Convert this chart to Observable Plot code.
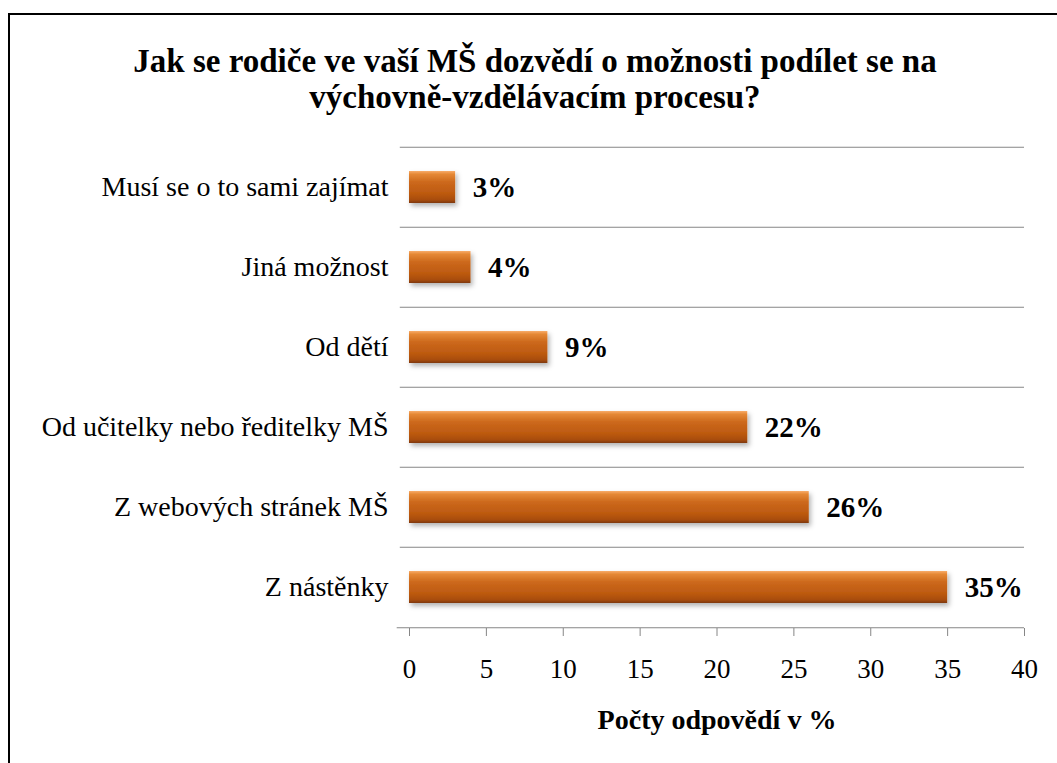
<!DOCTYPE html>
<html>
<head>
<meta charset="utf-8">
<script src="https://cdn.jsdelivr.net/npm/d3@7"></script>
<script src="https://cdn.jsdelivr.net/npm/@observablehq/plot@0.6"></script>
<style>
  html, body { margin: 0; padding: 0; background: #fff; }
  #wrap { position: relative; width: 1057px; height: 763px; overflow: hidden; background: #fff; }
  #frame { position: absolute; left: 8px; top: 13px; width: 1100px; height: 800px; border: 2px solid #000; box-sizing: border-box; }
  #chart { position: absolute; left: 0; top: 0; }
</style>
</head>
<body>
<div id="wrap">
  <div id="frame"></div>
  <div id="title" style="position:absolute;left:10px;top:43px;width:1050px;text-align:center;font-family:'Liberation Serif';font-weight:bold;font-size:33px;line-height:36px;color:#000;">Jak se rodiče ve vaší MŠ dozvědí o možnosti podílet se na<br>výchovně-vzdělávacím procesu?</div>
  <div id="chart"></div>
</div>
<script>
const categories = ["Musí se o to sami zajímat", "Jiná možnost", "Od dětí", "Od učitelky nebo ředitelky MŠ", "Z webových stránek MŠ", "Z nástěnky"];
const values = [3, 4, 9, 22, 26, 35];
const xTicks = [0, 5, 10, 15, 20, 25, 30, 35, 40];
const xLabel = "Počty odpovědí v %";

const data = categories.map((c, i) => ({category: c, value: values[i]}));
const lastCat = [categories[categories.length - 1]];

const W = 1057, H = 763;
const mTop = 145, mBottom = 135, mLeft = 409, mRight = 33;
const step = (H - mTop - mBottom) / categories.length;
const grid = "#868686";
const FONT = "Liberation Serif";

const defs = () => {
  const d = d3.create("svg:defs");
  const g = d.append("linearGradient").attr("id", "barGrad").attr("x1", 0).attr("y1", 0).attr("x2", 0).attr("y2", 1);
  [["0%", "#F8AC6A"], ["10%", "#E58834"], ["35%", "#CC681C"], ["70%", "#BD5A10"], ["90%", "#A84C0C"], ["100%", "#7E3806"]]
    .forEach(([o, c]) => g.append("stop").attr("offset", o).attr("stop-color", c));
  const f = d.append("filter").attr("id", "shadow").attr("x", "-10%").attr("y", "-30%").attr("width", "130%").attr("height", "180%");
  f.append("feDropShadow").attr("dx", 2).attr("dy", 3).attr("stdDeviation", 2.5).attr("flood-color", "#000").attr("flood-opacity", 0.3);
  return d.node();
};

const plot = Plot.plot({
  width: W,
  height: H,
  marginTop: mTop,
  marginBottom: mBottom,
  marginLeft: mLeft,
  marginRight: mRight,
  style: {fontFamily: FONT, color: "#000", background: "transparent"},
  x: {domain: [0, 40], ticks: xTicks},
  y: {domain: categories, paddingInner: 0.6, paddingOuter: 0.3},
  marks: [
    defs,
    Plot.ruleY(categories, {y: d => d, dy: -step / 2, x1: -0.6, x2: 40, stroke: grid, strokeWidth: 1.2}),
    Plot.ruleY(lastCat, {y: d => d, dy: step / 2, x1: -0.8, x2: 40, stroke: grid, strokeWidth: 1.2}),
    Plot.ruleX([0], {y1: null, stroke: grid, strokeWidth: 1.2}),
    Plot.barX(data, {y: "category", x: "value", fill: "url(#barGrad)", className: "bars"}),
    Plot.text(data, {y: "category", x: "value", text: d => d.value + "%", dx: 17, textAnchor: "start", fontSize: 29, fontWeight: "bold", fill: "#000"}),
    Plot.axisX({ticks: xTicks, tickSize: 8, tickPadding: 22, fontSize: 27, stroke: grid, label: null}),
    Plot.axisY({tickSize: 0, tickPadding: 21, fontSize: 28, label: null}),
    Plot.text([xLabel], {x: 20, frameAnchor: "bottom", dy: 100, text: d => d, fontSize: 28, fontWeight: "bold", fill: "#000"})
  ]
});
d3.select(plot).selectAll(".bars rect").attr("filter", "url(#shadow)");
document.getElementById("chart").appendChild(plot);
</script>
</body>
</html>
